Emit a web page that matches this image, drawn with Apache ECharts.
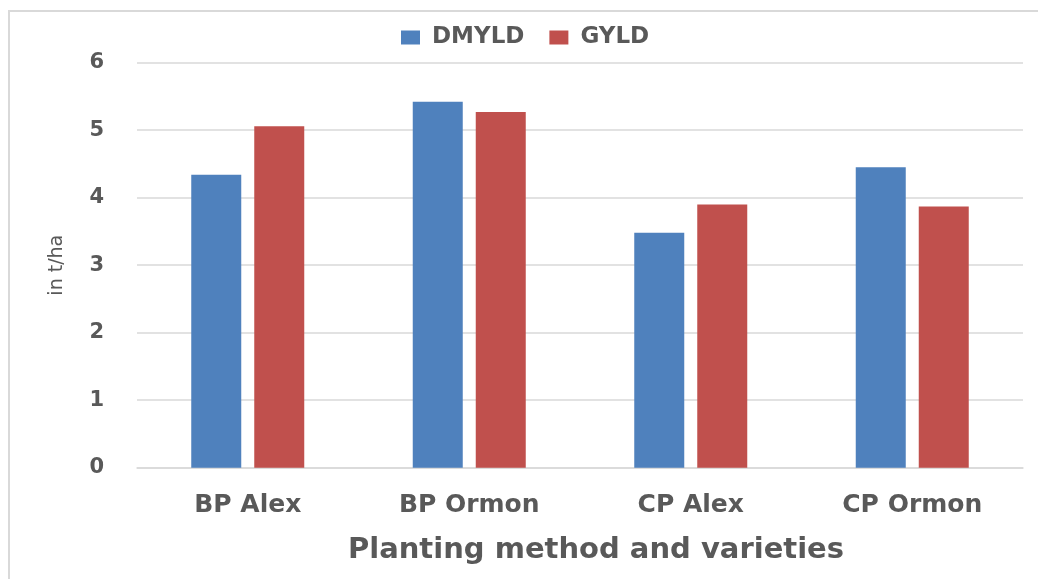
<!DOCTYPE html>
<html>
<head>
<meta charset="utf-8">
<script src="https://cdn.jsdelivr.net/npm/echarts@6/dist/echarts.min.js"></script>
<style>
  html, body { margin: 0; padding: 0; background: #fff; }
  #chart { width: 1038px; height: 579px; }
</style>
</head>
<body>
<div id="chart"></div>
<script>
const categories = ['BP Alex', 'BP Ormon', 'CP Alex', 'CP Ormon'];
const dmyld = [4.34, 5.42, 3.48, 4.45];
const gyld = [5.06, 5.27, 3.90, 3.87];
const seriesNames = ['DMYLD', 'GYLD'];

const textColor = '#595959';
const fontFamily = '"DejaVu Sans", Verdana, sans-serif';

const chart = echarts.init(document.getElementById('chart'));
chart.setOption({
    animation: false,
    color: ['#4F81BD', '#C0504D'],
    textStyle: { fontFamily: fontFamily },
    graphic: [{
        type: 'rect',
        shape: { x: 9, y: 11, width: 1040, height: 600 },
        style: { fill: 'none', stroke: '#d9d9d9', lineWidth: 2 }
    }],
    legend: {
        top: 21,
        left: 396,
        itemWidth: 19,
        itemHeight: 14,
        itemGap: 25,
        icon: 'rect',
        textStyle: {
            color: textColor, fontSize: 23, fontWeight: 'bold',
            fontFamily: fontFamily, padding: [0, 0, 0, 7]
        }
    },
    grid: {
        left: 137,
        right: 15,
        top: 62.7,
        bottom: 111.3
    },
    xAxis: {
        type: 'category',
        data: categories,
        name: 'Planting method and varieties',
        nameLocation: 'middle',
        nameGap: 68,
        nameTextStyle: { color: textColor, fontSize: 29, fontWeight: 'bold', padding: [0, 0, 0, 32] },
        axisTick: { show: false },
        axisLine: { lineStyle: { color: '#d9d9d9', width: 1.5 } },
        axisLabel: { color: textColor, fontSize: 25, fontWeight: 'bold', margin: 25 }
    },
    yAxis: {
        type: 'value',
        min: 0,
        max: 6,
        interval: 1,
        name: 'in t/ha',
        nameLocation: 'middle',
        nameGap: 70,
        nameRotate: 90,
        nameTextStyle: { color: textColor, fontSize: 19 },
        axisLine: { show: false },
        axisTick: { show: false },
        splitLine: { lineStyle: { color: '#d9d9d9', width: 1.5 } },
        axisLabel: { color: textColor, fontSize: 21, fontWeight: 'bold', margin: 33 }
    },
    series: [
        { name: seriesNames[0], type: 'bar', data: dmyld, barWidth: 50, barGap: '26%' },
        { name: seriesNames[1], type: 'bar', data: gyld, barWidth: 50, barGap: '26%' }
    ]
});
</script>
</body>
</html>
